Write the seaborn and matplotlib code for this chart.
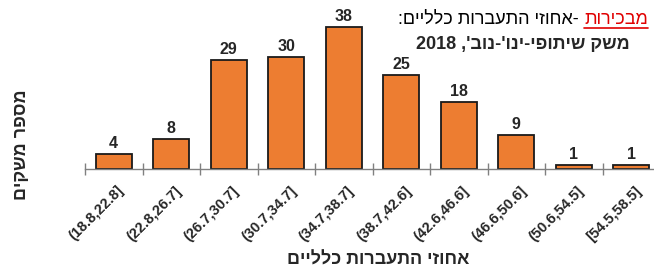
import re
import matplotlib
matplotlib.use("Agg")
import matplotlib.pyplot as plt
import matplotlib.transforms as mtransforms
import seaborn as sns
import pandas as pd

# Data
bins = ["(18.8,22.8]", "(22.8,26.7]", "(26.7,30.7]", "(30.7,34.7]", "(34.7,38.7]",
        "(38.7,42.6]", "(42.6,46.6]", "(46.6,50.6]", "(50.6,54.5]", "[54.5,58.5]"]
counts = [4, 8, 29, 30, 38, 25, 18, 9, 1, 1]

title_red = "מבכירות"
title_rest = " -אחוזי התעברות כלליים:"
title_line2 = "משק שיתופי-ינו'-נוב', 2018"
xlabel = "אחוזי התעברות כלליים"
ylabel = "מספר משקים"

BAR_COLOR = "#ED7D31"
FONT = ["Liberation Sans", "DejaVu Sans"]


def vis(s):
    # matplotlib has no bidi: flip hebrew to visual order, keep numbers readable
    r = s[::-1]
    return re.sub(r"[0-9.]+", lambda m: m.group(0)[::-1], r)


sns.set_theme(style="white")
plt.rcParams["font.family"] = FONT

df = pd.DataFrame({"bin": bins, "count": counts})

fig = plt.figure(figsize=(6.54, 2.70), dpi=100)
ax = fig.add_axes([85 / 654, 101 / 270, 575 / 654, 150 / 270])

sns.barplot(data=df, x="bin", y="count", color=BAR_COLOR, saturation=1,
            edgecolor="#1a1a1a", linewidth=1.3, width=0.63, ax=ax)
ax.bar_label(ax.containers[0], fmt="%d", padding=2, fontsize=11.5, fontweight="bold")

ax.set_xlim(-0.5, 9.5)
ax.set_ylim(0, 40)
ax.set_yticks([])
ax.set_xlabel("")
ax.set_ylabel("")
for s in ["left", "top", "right"]:
    ax.spines[s].set_visible(False)
ax.spines["bottom"].set_color("#808080")
ax.spines["bottom"].set_linewidth(1.0)

ax.set_xticks(range(len(bins)))
ax.set_xticklabels(bins, rotation=45, ha="right", va="center", rotation_mode="anchor",
                   fontsize=10.5, fontweight="bold")
ax.tick_params(axis="x", which="major", length=0, pad=14)
shift = mtransforms.ScaledTranslation(8 / 100, 0, fig.dpi_scale_trans)
for lbl in ax.get_xticklabels():
    lbl.set_transform(lbl.get_transform() + shift)
ax.set_xticks([i - 0.5 for i in range(len(bins))], minor=True)
ax.tick_params(axis="x", which="minor", direction="inout", length=9,
               width=1.0, color="#808080", bottom=True)

fig.text(378 / 654, 1 / 270, vis(xlabel), ha="center", va="bottom",
         fontsize=13, fontweight="bold")
fig.text(22 / 654, 125 / 270, vis(ylabel), ha="center", va="center",
         rotation=90, fontsize=13, fontweight="bold")

# title block, centered around x=523px
cx = 523 / 654
t_black = fig.text(0, 1 - 19 / 270, vis(title_rest), ha="left", va="center",
                   fontsize=13, color="black")
t_red = fig.text(0, 1 - 19 / 270, vis(title_red), ha="left", va="center",
                 fontsize=13, color="#E00000")
fig.canvas.draw()
r = fig.canvas.get_renderer()
wb = t_black.get_window_extent(r).width / fig.bbox.width
wr = t_red.get_window_extent(r).width / fig.bbox.width
x0 = cx - (wb + wr) / 2
t_black.set_x(x0)
t_red.set_x(x0 + wb)
uy = 1 - 28 / 270
fig.add_artist(plt.Line2D([x0 + wb, x0 + wb + wr], [uy, uy], color="#E00000",
                          linewidth=1.2, transform=fig.transFigure))

fig.text(cx, 1 - 45 / 270, vis(title_line2), ha="center", va="center",
         fontsize=13, fontweight="bold")

fig.savefig("out.png", dpi=100)
